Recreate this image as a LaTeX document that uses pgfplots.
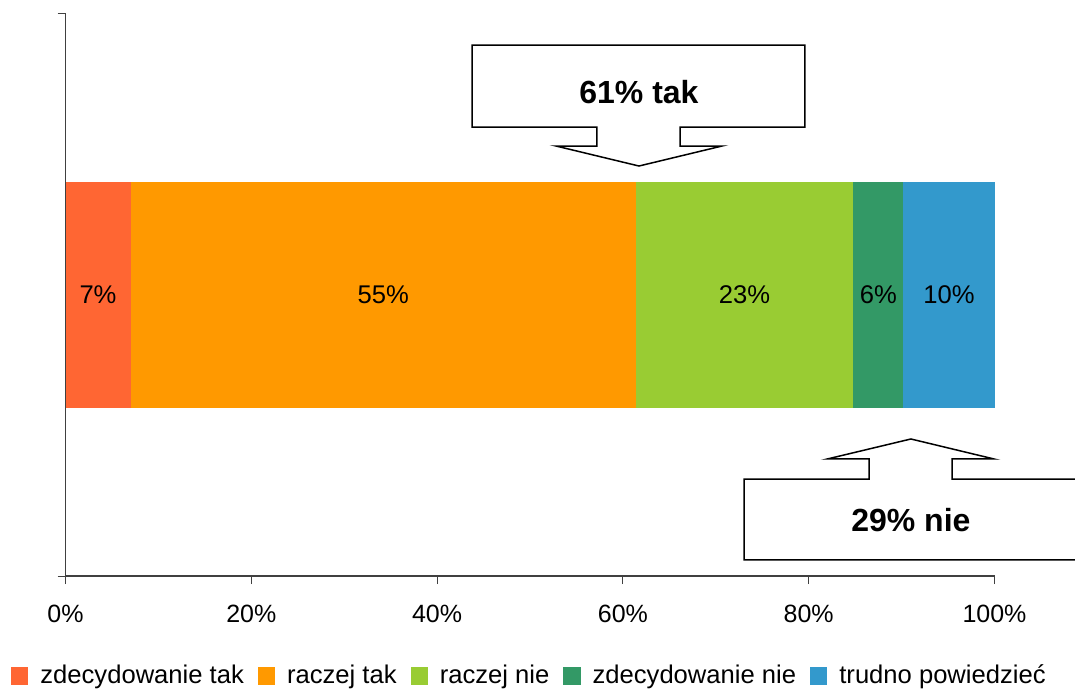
\documentclass[border=0pt]{standalone}
\usepackage{pgfplots}
\pgfplotsset{compat=1.18}
\usepackage{fontspec}
\setmainfont{Liberation Sans}
\definecolor{c1}{HTML}{FF6633}
\definecolor{c2}{HTML}{FF9900}
\definecolor{c3}{HTML}{99CC33}
\definecolor{c4}{HTML}{339966}
\definecolor{c5}{HTML}{3399CC}
\definecolor{axc}{HTML}{404040}
\begin{document}
\begin{tikzpicture}
\useasboundingbox (0,0) rectangle (537.5pt,346pt);
\begin{axis}[
  at={(32.75pt,58pt)}, anchor=south west,
  scale only axis, width=464.5pt, height=281pt,
  xbar stacked, bar width=113pt,
  xmin=0, xmax=100, ymin=0.5, ymax=1.5,
  axis x line=bottom, axis y line=left,
  axis line style={-, draw=axc, line width=0.6pt},
  every tick/.style={draw=axc, line width=0.5pt},
  tick align=outside, major tick length=4pt,
  xtick={0,20,40,60,80,100},
  xticklabel={\pgfmathprintnumber{\tick}\%},
  xticklabel style={font=\fontsize{12.5}{14}\selectfont, yshift=-7pt},
  /pgf/number format/assume math mode=true,
  ytick={0.5,1.5}, yticklabels={},
  point meta=explicit symbolic,
  nodes near coords={\pgfplotspointmeta},
  every node near coord/.append style={font=\fontsize{12.8}{14}\selectfont, text=black, anchor=center},
  clip=false,
  legend columns=5,
  legend style={draw=none, fill=none, at={(0.5005,-0.178)}, anchor=center,
    font=\fontsize{12.8}{14}\selectfont,
    /tikz/every even column/.append style={column sep=5pt},
    /tikz/every odd column/.append style={column sep=4pt}},
  legend image code/.code={\fill[#1] (0pt,-4.3pt) rectangle (8.6pt,4.3pt);},
  legend cell align=left,
]
\addplot[fill=c1, draw=none] coordinates {(7.0,1) [7\%]};
\addplot[fill=c2, draw=none] coordinates {(54.4,1) [55\%]};
\addplot[fill=c3, draw=none] coordinates {(23.4,1) [23\%]};
\addplot[fill=c4, draw=none] coordinates {(5.4,1) [6\%]};
\addplot[fill=c5, draw=none] coordinates {(9.8,1) [10\%]};
\legend{zdecydowanie tak, raczej tak, raczej nie, zdecydowanie nie, trudno powiedzieć}
\coordinate (a1) at (axis cs:43.76,1.2989);
\coordinate (a2) at (axis cs:43.76,1.4448);
\coordinate (a3) at (axis cs:79.60,1.4448);
\coordinate (a4) at (axis cs:79.60,1.2989);
\coordinate (a5) at (axis cs:66.15,1.2989);
\coordinate (a6) at (axis cs:66.15,1.2651);
\coordinate (a7) at (axis cs:70.67,1.2651);
\coordinate (a8) at (axis cs:61.73,1.2295);
\coordinate (a9) at (axis cs:52.80,1.2651);
\coordinate (a10) at (axis cs:57.21,1.2651);
\coordinate (a11) at (axis cs:57.21,1.2989);
\coordinate (at) at (axis cs:61.73,1.361);
\coordinate (b1) at (axis cs:115,0.5285);
\coordinate (b2) at (axis cs:73.04,0.5285);
\coordinate (b3) at (axis cs:73.04,0.6726);
\coordinate (b4) at (axis cs:86.49,0.6726);
\coordinate (b5) at (axis cs:86.49,0.7082);
\coordinate (b6) at (axis cs:82.0,0.7082);
\coordinate (b7) at (axis cs:91.0,0.7438);
\coordinate (b8) at (axis cs:99.95,0.7082);
\coordinate (b9) at (axis cs:95.43,0.7082);
\coordinate (b10) at (axis cs:95.43,0.6726);
\coordinate (b11) at (axis cs:115,0.6726);
\coordinate (bt) at (axis cs:91.0,0.5996);
\end{axis}
\draw[fill=white, draw=black, line width=0.75pt, line join=miter]
  (a1) -- (a2) -- (a3) -- (a4) -- (a5) -- (a6) -- (a7) -- (a8) -- (a9) -- (a10) -- (a11) -- cycle;
\node[font=\bfseries\fontsize{16}{18}\selectfont] at (at) {61\% tak};
\draw[fill=white, draw=black, line width=0.75pt, line join=miter]
  (b1) -- (b2) -- (b3) -- (b4) -- (b5) -- (b6) -- (b7) -- (b8) -- (b9) -- (b10) -- (b11);
\node[font=\bfseries\fontsize{16}{18}\selectfont] at (bt) {29\% nie};
\end{tikzpicture}
\end{document}
